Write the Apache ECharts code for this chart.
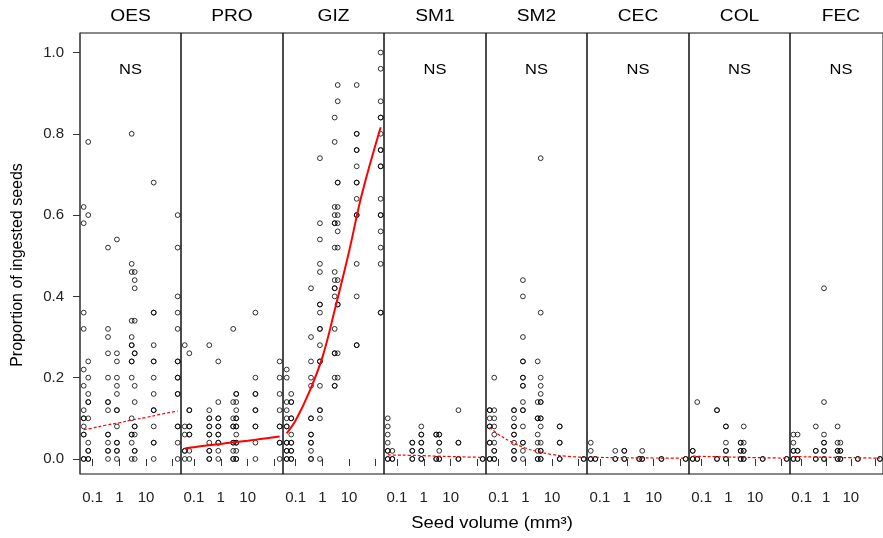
<!DOCTYPE html>
<html><head><meta charset="utf-8">
<script src="https://cdn.jsdelivr.net/npm/echarts@6/dist/echarts.min.js"></script>
<style>html,body{margin:0;padding:0;background:#fff}#c{width:883px;height:538px}</style>
</head><body><div id="c"></div>
<script>
// ---- data ----
const panels = ['OES','PRO','GIZ','SM1','SM2','CEC','COL','FEC'];
const significance = ['NS','','','NS','NS','NS','NS','NS'];
const fitSignificant = [false,true,true,false,false,false,false,false];
const seedVolume = [0.046, 0.068, 0.375, 0.81, 2.9, 3.76, 19.4, 154];
const yTicks = [0, 0.2, 0.4, 0.6, 0.8, 1.0];
const xTicks = [0.1, 1, 10, 100];
const xTickLabels = [0.1, 1, 10];

// proportion of ingested seeds, one list per seed-volume column
const OES = [
 [0.62,0.58,0.36,0.32,0.22,0.18,0.12,0.10,0.10,0.08,0.06,0.06,0,0],
 [0.78,0.60,0.24,0.20,0.16,0.14,0.14,0.10,0.04,0.02,0.02,0,0],
 [0.52,0.32,0.30,0.26,0.20,0.14,0.14,0.12,0.06,0.06,0.04,0.02,0.02,0],
 [0.54,0.26,0.24,0.20,0.18,0.16,0.12,0.12,0.08,0.04,0.04,0.02,0.02,0],
 [0.80,0.48,0.46,0.34,0.30,0.28,0.28,0.24,0.24,0.20,0.10,0.06,0.06,0.04,0],
 [0.46,0.44,0.42,0.34,0.26,0.26,0.18,0.14,0.08,0.08,0.06,0.02,0.02,0],
 [0.68,0.36,0.36,0.28,0.24,0.24,0.20,0.16,0.12,0.12,0.08,0.04,0.04,0],
 [0.60,0.52,0.40,0.36,0.32,0.24,0.24,0.20,0.20,0.16,0.16,0.08,0.08,0.04,0]
];
const PRO = [
 [0.28,0.08,0.06,0.02,0.02,0],
 [0.26,0.12,0.12,0.08,0.08,0.06,0.06,0.02,0],
 [0.28,0.12,0.10,0.10,0.08,0.08,0.06,0.06,0.04,0.02,0.02,0,0],
 [0.24,0.14,0.10,0.10,0.08,0.08,0.06,0.06,0.04,0.04,0.02,0],
 [0.32,0.14,0.10,0.08,0.08,0.04,0.04,0.02,0,0],
 [0.16,0.16,0.14,0.12,0.10,0.10,0.08,0.08,0.06,0.04,0.04,0.02,0,0],
 [0.36,0.20,0.16,0.16,0.12,0.12,0.08,0.08,0.04,0],
 [0.24,0.20,0.16,0.12,0.08,0.08,0.04,0.04,0]
];
const GIZ = [
 [0.22,0.20,0.14,0.12,0.10,0.08,0.08,0.04,0.04,0.02,0.02,0,0],
 [0.16,0.14,0.14,0.10,0.10,0.06,0.04,0.04,0.02,0.02,0,0],
 [0.42,0.30,0.24,0.20,0.18,0.10,0.10,0.06,0.06,0.04,0.04,0.02,0,0],
 [0.74,0.58,0.54,0.48,0.46,0.38,0.38,0.36,0.32,0.32,0.28,0.24,0.24,0.18,0.12,0.12,0.10,0],
 [0.84,0.78,0.62,0.60,0.58,0.58,0.52,0.46,0.44,0.42,0.42,0.40,0.32,0.26,0.26,0.20,0.18,0.18],
 [0.92,0.88,0.68,0.68,0.62,0.60,0.58,0.56,0.52,0.44,0.38,0.38,0.26,0.20],
 [0.92,0.80,0.80,0.76,0.76,0.72,0.68,0.68,0.64,0.60,0.60,0.48,0.40,0.28,0.28],
 [1.00,0.96,0.88,0.84,0.84,0.80,0.76,0.76,0.72,0.72,0.64,0.60,0.60,0.56,0.52,0.48,0.36,0.36]
];
const SM1 = [
 [0.10,0.08,0.06,0.04,0.02,0.02,0,0],
 [0.02,0,0],
 [0.04,0.04,0.02,0.02,0,0],
 [0.08,0.06,0.06,0.04,0.04,0.02,0.02,0,0],
 [0.06,0.06,0,0],
 [0.06,0.06,0.04,0.04,0.02,0,0],
 [0.12,0.04,0.04,0,0],
 [0,0]
];
const SM2 = [
 [0.12,0.12,0.10,0.08,0.08,0.04,0.04,0,0],
 [0.20,0.12,0.10,0.08,0.06,0.04,0.02,0.02,0,0],
 [0.12,0.12,0.10,0.08,0.08,0.06,0.06,0.04,0.02,0.02,0,0],
 [0.44,0.40,0.30,0.24,0.24,0.20,0.20,0.18,0.18,0.14,0.12,0.12,0.08,0.04,0.04,0.02,0],
 [0.24,0.14,0.10,0.10,0.06,0.04,0.02,0,0],
 [0.74,0.36,0.20,0.18,0.16,0.14,0.14,0.10,0.10,0.08,0.04,0.02,0.02,0,0],
 [0.08,0.08,0.04,0.04,0,0],
 [0,0]
];
const CEC = [
 [0.04,0.02,0,0],[0,0],[0.02,0,0],[0.02,0.02,0,0],[0,0],[0.02,0,0],[0,0],[0,0]
];
const COL = [
 [0.02,0.02,0,0],[0.14,0,0],[0.12,0.12,0,0],[0.08,0.08,0.04,0.02,0.02,0,0],
 [0.04,0.04,0.02,0.02,0,0],[0.08,0.04,0.02,0.02,0,0],[0,0],[0,0]
];
const FEC = [
 [0.06,0.04,0.02,0.02,0,0],[0.06,0.02,0.02,0,0],[0.08,0.02,0.02,0,0],
 [0.42,0.14,0.06,0.04,0.04,0.02,0.02,0,0],[0.08,0.04,0.02,0.02,0,0],
 [0.04,0.02,0.02,0,0],[0,0],[0,0]
];
const panelData = [OES, PRO, GIZ, SM1, SM2, CEC, COL, FEC];

// fitted curves, read at these seed volumes
const fitX = [0.046, 0.1, 0.3, 1, 3, 10, 30, 154];
const fitOES = [0.072, 0.076, 0.083, 0.089, 0.096, 0.102, 0.109, 0.118];
const fitPRO = [0.026, 0.029, 0.033, 0.037, 0.041, 0.045, 0.049, 0.055];
const fitGIZ = [0.063, 0.095, 0.16, 0.25, 0.37, 0.51, 0.65, 0.816];
const fitSM1 = [0.010, 0.0095, 0.009, 0.008, 0.007, 0.006, 0.005, 0.004];
const fitSM2 = [0.078, 0.060, 0.042, 0.027, 0.018, 0.011, 0.007, 0.004];
const fitCEC = [0.004, 0.0037, 0.0034, 0.003, 0.0027, 0.0024, 0.0022, 0.002];
const fitCOL = [0.007, 0.0063, 0.0056, 0.0048, 0.0041, 0.0034, 0.0028, 0.002];
const fitFEC = [0.006, 0.0055, 0.005, 0.0044, 0.0038, 0.0032, 0.0027, 0.002];
const fits = [fitOES, fitPRO, fitGIZ, fitSM1, fitSM2, fitCEC, fitCOL, fitFEC];

// ---- layout ----
const FONT = 'Liberation Sans, Arial, sans-serif';
const lefts = [80, 181, 283, 384, 486, 587, 689, 790, 892];
const TOP = 33, BOTTOM = 474;

const grid = [], xAxis = [], yAxis = [], series = [], graphic = [];
panels.forEach((name, i) => {
  const l = lefts[i], w = lefts[i+1] - l;
  grid.push({left: l, top: TOP, width: w, height: BOTTOM - TOP,
    show: true, borderColor: '#111', borderWidth: 1, backgroundColor: 'transparent'});
  xAxis.push({gridIndex: i, type: 'log', logBase: 10, min: 0.0334, max: 205,
    axisLine: {show: false},
    axisTick: {show: true, length: 7, lineStyle: {color: '#333'}, customValues: xTicks},
    axisLabel: {show: true, customValues: xTickLabels, fontFamily: FONT, fontSize: 15, color: '#222', margin: 16,
      formatter: v => String(+Number(v).toPrecision(3))},
    splitLine: {show: false}, minorTick: {show: false}});
  yAxis.push({gridIndex: i, type: 'value', min: -0.037, max: 1.048, show: i === 0,
    axisLine: {show: i === 0, lineStyle: {color: '#555', width: 1.5}},
    axisTick: {show: true, length: 7, lineStyle: {color: '#333'}, customValues: yTicks},
    axisLabel: {customValues: yTicks, fontFamily: FONT, fontSize: 15, color: '#222', margin: 16,
      formatter: v => Number(v).toFixed(1)},
    splitLine: {show: false}});
  const pts = [];
  panelData[i].forEach((col, c) => col.forEach(v => pts.push([seedVolume[c], v])));
  series.push({type: 'scatter', xAxisIndex: i, yAxisIndex: i, data: pts,
    symbol: 'circle', symbolSize: 4.8, silent: true,
    itemStyle: {color: 'rgba(0,0,0,0)', borderColor: '#000', borderWidth: 1}});
  series.push({type: 'line', xAxisIndex: i, yAxisIndex: i, smooth: 0.4, symbol: 'none', silent: true,
    data: fitX.map((x, k) => [x, fits[i][k]]),
    lineStyle: fitSignificant[i] ? {color: '#ff0000', width: 2} : {color: '#ff0000', width: 1.2, type: [3, 2]},
    z: 5});
  const cx = l + w / 2;
  graphic.push({type: 'text', x: cx, y: 17, scaleX: 1.2,
    style: {text: name, font: '16px ' + FONT, fill: '#000', textAlign: 'center', textVerticalAlign: 'middle'}});
  if (significance[i]) graphic.push({type: 'text', x: cx, y: 70, scaleX: 1.1,
    style: {text: significance[i], font: '15px ' + FONT, fill: '#000', textAlign: 'center', textVerticalAlign: 'middle'}});
});
graphic.push({type: 'text', x: 18, y: 265, rotation: Math.PI / 2,
  style: {text: 'Proportion of ingested seeds', font: '16px ' + FONT, fill: '#000', textAlign: 'center', textVerticalAlign: 'middle'}});
graphic.push({type: 'text', x: 492, y: 524, scaleX: 1.15,
  style: {text: 'Seed volume (mm³)', font: '16px ' + FONT, fill: '#000', textAlign: 'center', textVerticalAlign: 'middle'}});

const chart = echarts.init(document.getElementById('c'), null, {renderer: 'canvas'});
chart.setOption({animation: false, backgroundColor: '#fff', grid, xAxis, yAxis, series, graphic});
</script></body></html>
